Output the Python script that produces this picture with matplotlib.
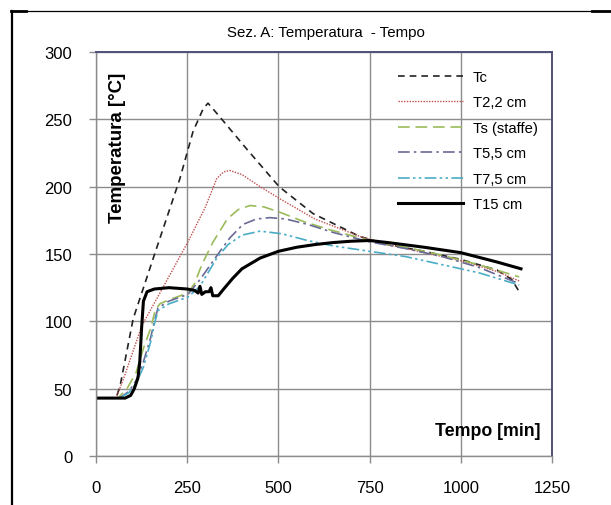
import matplotlib
matplotlib.use("Agg")
import matplotlib.pyplot as plt
from matplotlib.lines import Line2D

plt.rcParams['font.family'] = ['Liberation Sans', 'DejaVu Sans']

title = "Sez. A: Temperatura  - Tempo"
xlabel = "Tempo [min]"
ylabel = "Temperatura [°C]"
xticks = [0, 250, 500, 750, 1000, 1250]
yticks = [0, 50, 100, 150, 200, 250, 300]

# Series (time [min], temperature [°C])
tc_t = [0, 55, 66, 102, 162, 230, 266, 294, 307, 320, 345, 413, 502, 595, 723,
        800, 900, 1000, 1100, 1140, 1160]
tc_v = [43, 43, 52, 102, 151, 206, 241, 258, 262, 258, 250, 228, 200, 180, 163,
        157, 152, 146, 138, 131, 122]

t22_t = [0, 55, 75, 126, 167, 252, 300, 331, 350, 367, 400, 450, 504, 600, 724,
         800, 900, 1000, 1100, 1160]
t22_v = [43, 43, 57, 97, 117, 159, 185, 206, 211, 212, 209, 200, 191, 176, 163,
         157, 151, 145, 137, 130]

ts_t = [0, 60, 85, 110, 130, 150, 162, 175, 200, 252, 270, 290, 321, 360, 390, 422,
        460, 504, 570, 641, 750, 850, 950, 1050, 1160]
ts_v = [43, 43, 50, 62, 80, 95, 108, 113, 116, 121, 128, 142, 159, 176, 183, 186,
        185, 181, 174, 168, 160, 155, 149, 142, 133]

t55_t = [0, 65, 90, 110, 130, 150, 160, 170, 200, 252, 285, 340, 367, 403, 440, 477,
         520, 580, 650, 750, 850, 950, 1050, 1160]
t55_v = [43, 43, 48, 56, 70, 88, 100, 110, 115, 120, 131, 152, 162, 172, 176, 177,
         176, 172, 166, 159, 154, 148, 140, 128]

t75_t = [0, 65, 90, 110, 130, 150, 160, 170, 200, 252, 285, 331, 362, 400, 450,
         510, 580, 650, 750, 850, 950, 1050, 1160]
t75_v = [43, 43, 47, 54, 66, 85, 98, 108, 113, 118, 126, 147, 157, 164, 167,
         165, 160, 156, 152, 148, 142, 136, 127]

t15_t = [0, 80, 95, 105, 115, 120, 125, 130, 140, 160, 200, 250, 270, 280, 285, 290,
         300, 310, 315, 320, 335, 350, 375, 400, 450, 500, 550, 600, 650, 700, 750,
         800, 900, 1000, 1100, 1165]
t15_v = [43, 43, 45, 50, 58, 70, 95, 115, 122, 124, 125, 124, 123, 121, 126, 120,
         122, 122, 125, 119, 119, 124, 132, 139, 147, 152, 155, 157, 158.5, 159.5, 160,
         158.5, 155, 151, 144, 139]

series = [
    ("Tc", tc_t, tc_v, dict(color="#222222", lw=1.2, linestyle=(0, (4, 3)))),
    ("T2,2 cm", t22_t, t22_v, dict(color="#c0504d", lw=1.0, linestyle=(0, (1, 1)))),
    ("Ts (staffe)", ts_t, ts_v, dict(color="#9bbb59", lw=1.2, linestyle=(0, (7, 3.5)))),
    ("T5,5 cm", t55_t, t55_v, dict(color="#6a6a96", lw=1.2, linestyle=(0, (7, 2.5, 1.5, 2.5)))),
    ("T7,5 cm", t75_t, t75_v, dict(color="#4bacc6", lw=1.2, linestyle=(0, (7, 2, 1.5, 2, 1.5, 2)))),
    ("T15 cm", t15_t, t15_v, dict(color="#000000", lw=2.2, linestyle="-")),
]

W, H = 611, 506
fig = plt.figure(figsize=(W / 100, H / 100), dpi=100)
fig.patch.set_facecolor("white")

ax = fig.add_axes([96 / W, 1 - 457 / H, (552 - 96) / W, (457 - 53) / H])
for name, t, v, st in series:
    ax.plot(t, v, label=name, **st)

ax.set_xlim(0, 1250)
ax.set_ylim(0, 300)
ax.set_xticks(xticks)
ax.set_yticks(yticks)
ax.grid(True, color="#8c8c8c", lw=1.0)
ax.set_axisbelow(True)
ax.tick_params(axis="both", direction="out", length=5, width=1, color="#8c8c8c",
               labelsize=12, pad=12)
for s in ["left", "bottom"]:
    ax.spines[s].set_color("#8c8c8c")
    ax.spines[s].set_linewidth(1.0)
for s in ["top", "right"]:
    ax.spines[s].set_color("#50507a")
    ax.spines[s].set_linewidth(1.4)

ax.text(0.048, 0.764, ylabel, transform=ax.transAxes, rotation=90, ha="center",
        va="center", fontsize=13.5, fontweight="bold")
ax.text(0.975, 0.062, xlabel, transform=ax.transAxes, ha="right", va="center",
        fontsize=12.8, fontweight="bold")

fig.text(326 / W, 1 - 33 / H, title, ha="center", va="center", fontsize=10.8)

leg = ax.legend(loc="upper left", bbox_to_anchor=(398 / W, 1 - 71 / H),
                bbox_transform=fig.transFigure, frameon=False,
                handlelength=4.4, handletextpad=0.7, labelspacing=0.78,
                borderpad=0, borderaxespad=0, prop={"size": 10.6})

# figure border lines (left and top)
fig.add_artist(Line2D([12 / W, 12 / W], [0, 1 - 11.5 / H], transform=fig.transFigure,
                      color="black", lw=1.6))
fig.add_artist(Line2D([11 / W, 1], [1 - 11.5 / H, 1 - 11.5 / H], transform=fig.transFigure,
                      color="black", lw=0.9))
fig.add_artist(Line2D([11 / W, 26 / W], [1 - 12 / H, 1 - 12 / H], transform=fig.transFigure,
                      color="black", lw=2.0))
fig.add_artist(Line2D([592 / W, 1], [1 - 12 / H, 1 - 12 / H], transform=fig.transFigure,
                      color="black", lw=2.0))

fig.savefig("out.png", dpi=100)
